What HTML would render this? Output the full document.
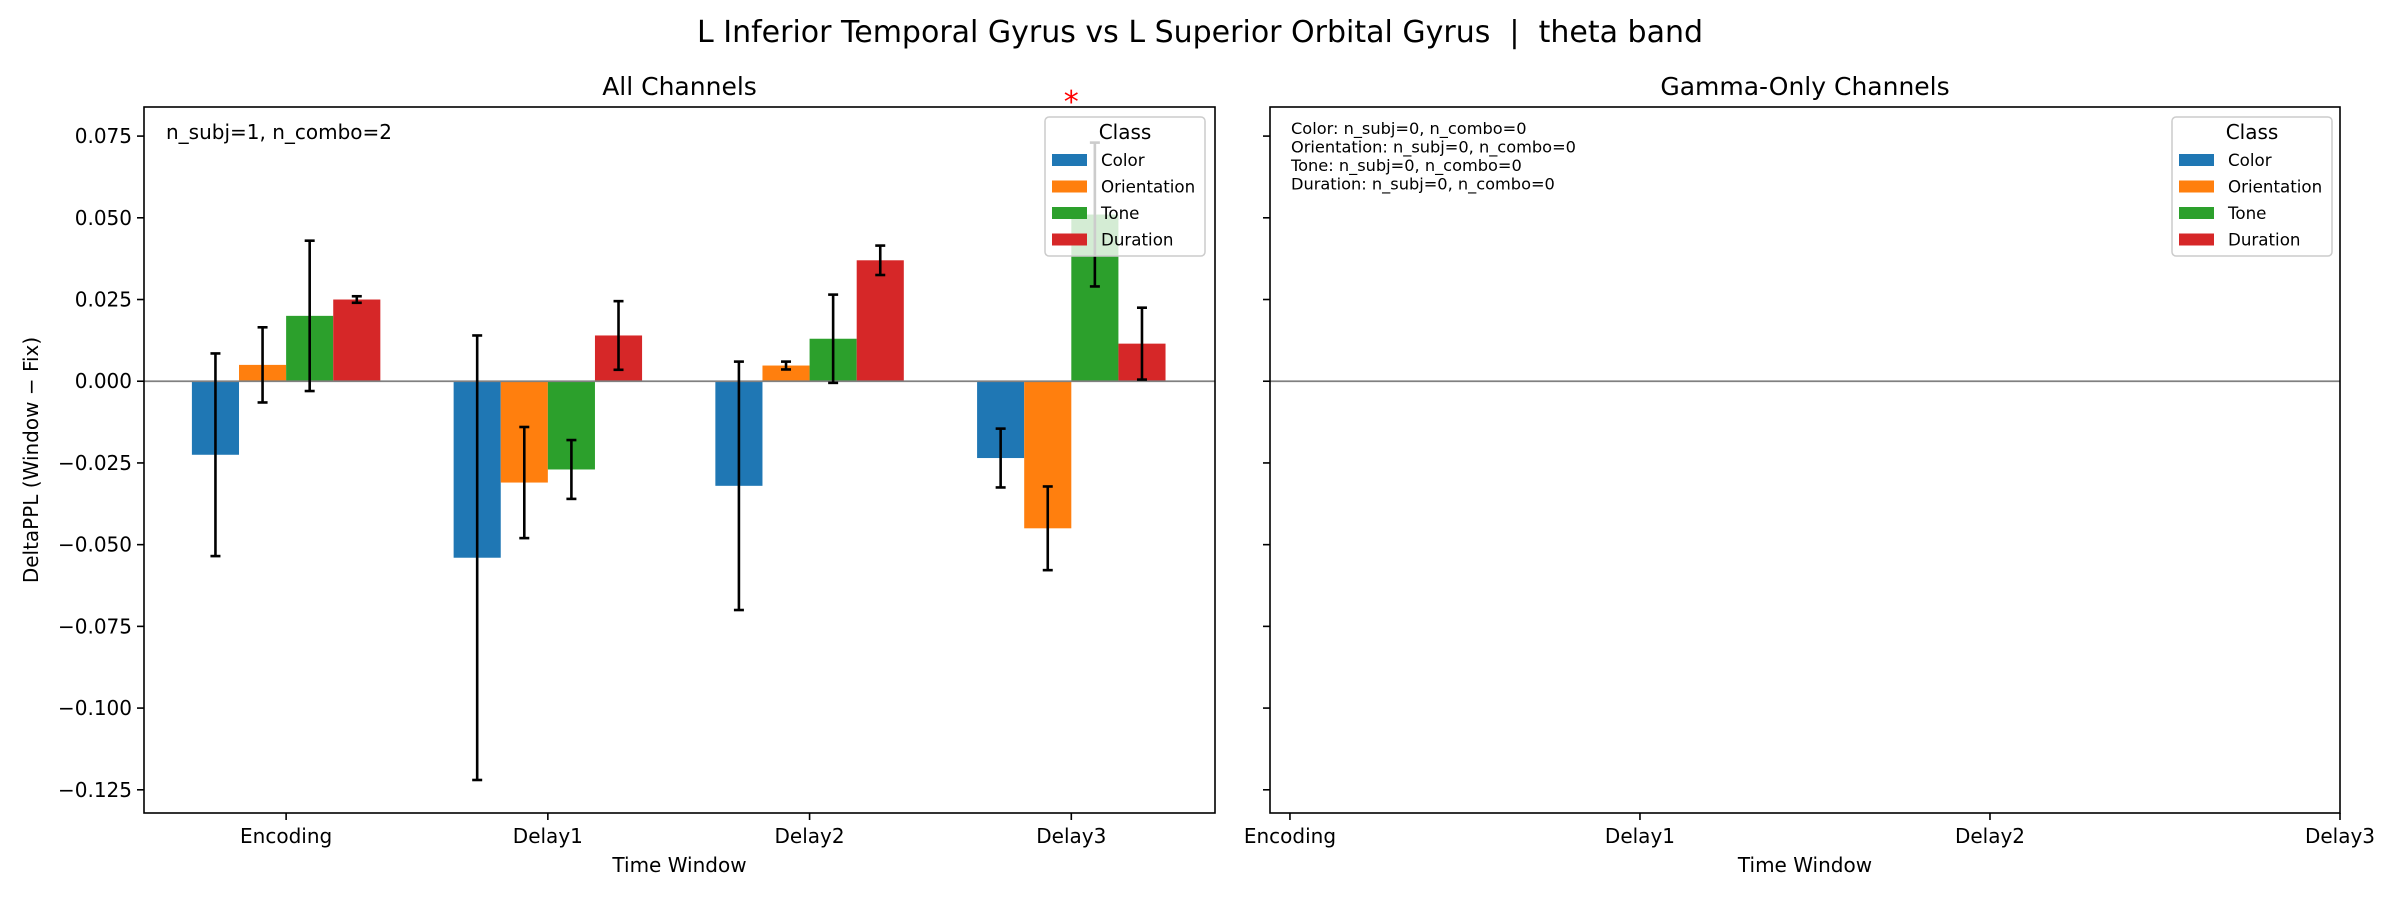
<!DOCTYPE html>
<html><head><meta charset="utf-8"><style>
html,body{margin:0;padding:0;background:#fff;}
svg{display:block;font-family:"DejaVu Sans","Liberation Sans",sans-serif;}
</style></head><body>
<svg id="fig" width="2400" height="900" viewBox="0 0 2400 900" xmlns="http://www.w3.org/2000/svg">
<rect width="2400" height="900" fill="#fff"/>
<text x="1200" y="42" font-size="30" text-anchor="middle" style="white-space:pre" xml:space="preserve">L Inferior Temporal Gyrus vs L Superior Orbital Gyrus  |  theta band</text>
<g id="left"></g>
<g id="right"></g>
</svg>
<script>
const categories = ["Encoding","Delay1","Delay2","Delay3"];
const classes = ["Color","Orientation","Tone","Duration"];
const colors = ["#1f77b4","#ff7f0e","#2ca02c","#d62728"];
const colorVals = [-0.0225,-0.054,-0.032,-0.0235];
const colorErr = [0.031,0.068,0.038,0.009];
const orientVals = [0.005,-0.031,0.0048,-0.045];
const orientErr = [0.0115,0.017,0.0012,0.0128];
const toneVals = [0.020,-0.027,0.013,0.051];
const toneErr = [0.023,0.009,0.0135,0.022];
const durVals = [0.025,0.014,0.037,0.0115];
const durErr = [0.001,0.0105,0.0045,0.011];
const yTicks = [0.075,0.050,0.025,0.000,-0.025,-0.050,-0.075,-0.100,-0.125];
const yTickLabels = ["0.075","0.050","0.025","0.000","\u22120.025","\u22120.050","\u22120.075","\u22120.100","\u22120.125"];
const sigMarks = [3];
const rightNotes = ["Color: n_subj=0, n_combo=0","Orientation: n_subj=0, n_combo=0","Tone: n_subj=0, n_combo=0","Duration: n_subj=0, n_combo=0"];

const NS="http://www.w3.org/2000/svg";
function mk(parent,tag,attrs,text){const e=document.createElementNS(NS,tag);for(const k in attrs)e.setAttribute(k,attrs[k]);if(text!==undefined)e.textContent=text;parent.appendChild(e);return e;}

const Y0=107,Y1=813,ymax=0.0839,ymin=-0.1321;
function ys(v){return Y0+(ymax-v)/(ymax-ymin)*(Y1-Y0);}

function drawAxes(g,L,R,xmin,xmax,showLabels,title){
  const xs=v=>L+(v-xmin)/(xmax-xmin)*(R-L);
  const t=mk(g,'text',{x:(L+R)/2,y:95,'font-size':25,'text-anchor':'middle'},title);
  
  
  yTicks.forEach((v,i)=>{
    const y=ys(v);
    const tk=mk(g,'line',{x1:L-7,x2:L,y1:y,y2:y,stroke:'#000','stroke-width':1.6});
    
    
    if(showLabels){
      const lb=mk(g,'text',{x:L-12,y:y+7,'font-size':20,'text-anchor':'end'},yTickLabels[i]);
      
      
    }
  });
  categories.forEach((c,i)=>{
    const x=xs(i);
    const tk=mk(g,'line',{x1:x,x2:x,y1:Y1,y2:Y1+7,stroke:'#000','stroke-width':1.6});
    
    
    const lb=mk(g,'text',{x:x,y:843,'font-size':20,'text-anchor':'middle'},c);
    
    
  });
  const xl=mk(g,'text',{x:(L+R)/2,y:872,'font-size':20,'text-anchor':'middle'},'Time Window');
  
  
  return xs;
}
function zeroLine(g,L,R){
  const z=mk(g,'line',{x1:L,x2:R,y1:ys(0),y2:ys(0),stroke:'#808080','stroke-width':1.8});
  
  
}
function frame(g,L,R){
  const f=mk(g,'rect',{x:L,y:Y0,width:R-L,height:Y1-Y0,fill:'none',stroke:'#000','stroke-width':1.6});
  
  
}
function legend(g,x,y){
  const lg=mk(g,'g',{});
  
  
  mk(lg,'rect',{x:x,y:y,width:160,height:139,rx:4,fill:'#fff','fill-opacity':0.8,stroke:'#ccc','stroke-width':1.5});
  mk(lg,'text',{x:x+80,y:y+22,'font-size':20,'text-anchor':'middle'},'Class');
  classes.forEach((c,i)=>{
    const e=mk(lg,'g',{});
    
    
    const yy=y+43+i*26.5;
    mk(e,'rect',{x:x+7,y:yy-6,width:35,height:12,fill:colors[i]});
    mk(e,'text',{x:x+56,y:yy+6,'font-size':16.7},c);
  });
}

// Left panel
const gl=document.getElementById('left');
const LL=144,LR=1215;
const xsL=drawAxes(gl,LL,LR,-0.543,3.549,true,'All Channels');
const yl=mk(gl,'text',{x:0,y:0,'font-size':20,'text-anchor':'middle',transform:'translate(38,460) rotate(-90)'},'DeltaPPL (Window \u2212 Fix)');


const series=[[colorVals,colorErr],[orientVals,orientErr],[toneVals,toneErr],[durVals,durErr]];
const bw=0.18;
series.forEach((s,k)=>{
  const [vals,errs]=s;
  vals.forEach((v,i)=>{
    const c=i+(k-1.5)*bw;
    const x1=xsL(c-bw/2),x2=xsL(c+bw/2);
    const b=mk(gl,'rect',{x:x1,y:Math.min(ys(0),ys(v)),width:x2-x1,height:Math.abs(ys(v)-ys(0)),fill:colors[k]});
    
    
  });
});
zeroLine(gl,LL,LR);
series.forEach((s,k)=>{
  const [vals,errs]=s;
  vals.forEach((v,i)=>{
    const cx=xsL(i+(k-1.5)*bw);
    const eg=mk(gl,'g',{stroke:'#000','stroke-width':2.6});
    
    
    const a=ys(v+errs[i]),b=ys(v-errs[i]);
    mk(eg,'line',{x1:cx,x2:cx,y1:a,y2:b});
    mk(eg,'line',{x1:cx-5,x2:cx+5,y1:a,y2:a});
    mk(eg,'line',{x1:cx-5,x2:cx+5,y1:b,y2:b});
  });
});
sigMarks.forEach(i=>{
  const s=mk(gl,'text',{x:xsL(i),y:112,'font-size':30,fill:'red','text-anchor':'middle'},'*');
  
  
});
const an=mk(gl,'text',{x:166,y:139,'font-size':20},'n_subj=1, n_combo=2');


frame(gl,LL,LR);
legend(gl,1045,117);

// Right panel
const gr=document.getElementById('right');
const RL=1270,RR=2340;
drawAxes(gr,RL,RR,-0.057,3.0,false,'Gamma-Only Channels');
zeroLine(gr,RL,RR);
rightNotes.forEach((t,i)=>{
  const n=mk(gr,'text',{x:1291,y:134+i*18.5,'font-size':16.2},t);
  
  
});
frame(gr,RL,RR);
legend(gr,2172,117);
</script>
</body></html>
